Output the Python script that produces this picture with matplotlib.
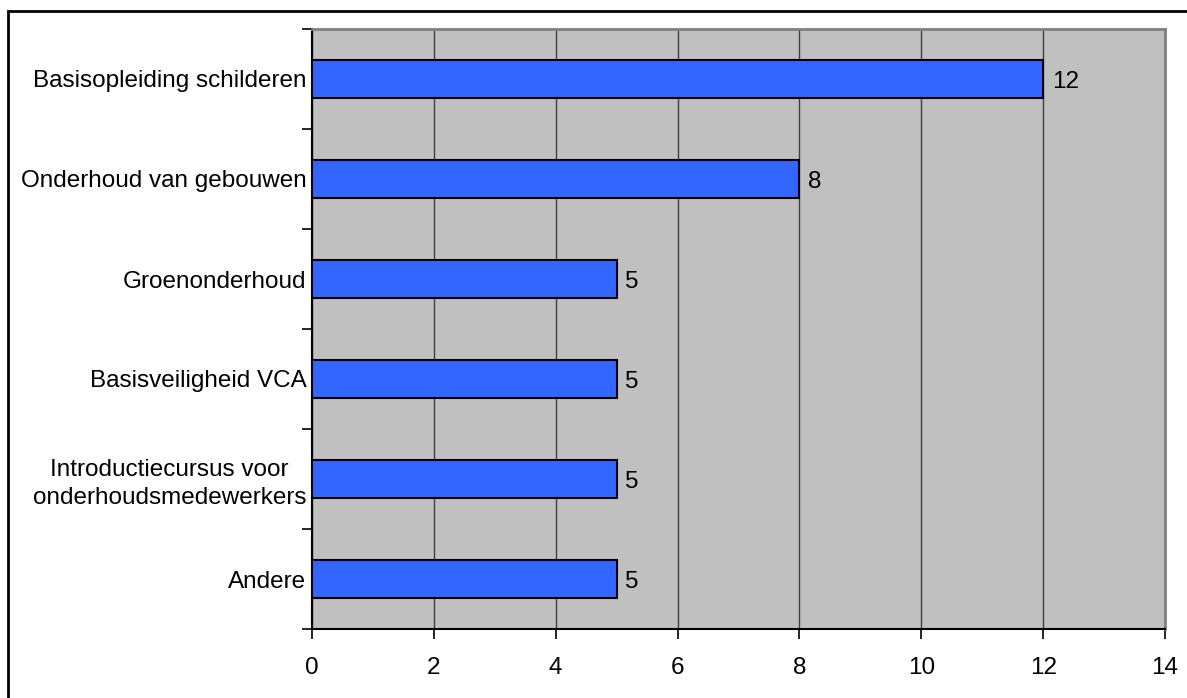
import matplotlib.pyplot as plt
from matplotlib.patches import Rectangle
import numpy as np

CATEGORIES = [
    "Basisopleiding schilderen",
    "Onderhoud van gebouwen",
    "Groenonderhoud",
    "Basisveiligheid VCA",
    "Introductiecursus voor\nonderhoudsmedewerkers",
    "Andere",
]
VALUES = [12, 8, 5, 5, 5, 5]
X_TICKS = [0, 2, 4, 6, 8, 10, 12, 14]


def main():
    plt.rcParams["font.family"] = ["Liberation Sans", "DejaVu Sans"]
    W, H = 1187, 698
    fs = 17.5
    fig = plt.figure(figsize=(W / 100, H / 100), dpi=100)

    # outer chart border (right/bottom fall outside the image)
    fig.add_artist(Rectangle((8 / W, -1), 2, 2 - 11 / H,
                             transform=fig.transFigure, fill=False,
                             edgecolor="black", linewidth=2))

    left, right, top, bottom = 312, 1165, 29, 629
    ax = fig.add_axes([left / W, 1 - bottom / H, (right - left) / W, (bottom - top) / H])
    ax.set_facecolor("#c0c0c0")

    y = np.arange(len(CATEGORIES))
    ax.barh(y, VALUES, height=0.38, color="#3366ff", edgecolor="black",
            linewidth=1.5, zorder=3)
    for yi, v in zip(y, VALUES):
        ax.text(v + 0.14, yi, str(v), va="center_baseline", ha="left",
                fontsize=fs, zorder=4)

    ax.set_xlim(0, 14)
    ax.set_ylim(len(CATEGORIES) - 0.5, -0.5)
    ax.set_xticks(X_TICKS)
    ax.set_xticklabels([str(t) for t in X_TICKS], fontsize=fs)
    ax.set_yticks(y)
    ax.set_yticklabels(CATEGORIES, fontsize=fs, ha="right", multialignment="center",
                       linespacing=1.3)
    ax.tick_params(axis="y", which="major", length=0, pad=4)
    ax.set_yticks(np.arange(-0.5, len(CATEGORIES), 1), minor=True)
    ax.tick_params(axis="y", which="minor", length=7, width=1.2, direction="out")
    ax.tick_params(axis="x", length=7, width=1.2, direction="out", pad=13)

    ax.grid(axis="x", color="#404040", linewidth=1, zorder=1)
    ax.set_axisbelow(True)
    for side in ("left", "bottom"):
        ax.spines[side].set_color("black")
        ax.spines[side].set_linewidth(1.5)
    for side in ("top", "right"):
        ax.spines[side].set_color("#808080")
        ax.spines[side].set_linewidth(2)

    fig.savefig("out.png", dpi=100, facecolor="white")
    plt.close(fig)


if __name__ == "__main__":
    main()
